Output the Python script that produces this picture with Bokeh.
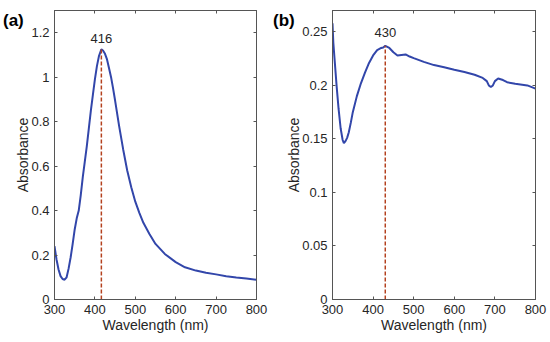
from bokeh.plotting import figure
from bokeh.layouts import row
from bokeh.models import Range1d, LinearAxis, Label, FixedTicker, Div
from bokeh.embed import file_html
from bokeh.resources import INLINE

# ---------------- data ----------------
wl_a = [300, 305, 310, 315, 320, 325, 330, 335, 340, 345, 350, 355, 360, 365, 370,
        375, 380, 385, 390, 395, 400, 405, 410, 416, 420, 425, 430, 435, 440, 445,
        450, 460, 470, 480, 490, 500, 510, 520, 535, 550, 573, 600, 623, 650, 675,
        700, 725, 750, 775, 800]
abs_a = [0.24, 0.18, 0.135, 0.105, 0.092, 0.089, 0.10, 0.14, 0.19, 0.25, 0.315, 0.365,
         0.40, 0.47, 0.55, 0.62, 0.69, 0.77, 0.85, 0.92, 0.99, 1.05, 1.095, 1.125, 1.12,
         1.105, 1.08, 1.04, 1.0, 0.95, 0.895, 0.78, 0.675, 0.58, 0.505, 0.44, 0.39, 0.345,
         0.295, 0.25, 0.205, 0.168, 0.145, 0.13, 0.12, 0.113, 0.105, 0.099, 0.094, 0.089]

wl_b = [300, 302, 305, 310, 315, 320, 325, 328, 332, 336, 340, 345, 350, 360, 370, 380,
        390, 400, 410, 420, 425, 430, 440, 450, 460, 470, 480, 490, 500, 525, 550, 575,
        600, 625, 650, 670, 680, 685, 690, 695, 700, 708, 720, 730, 750, 780, 800]
abs_b = [0.258, 0.24, 0.225, 0.20, 0.178, 0.16, 0.149, 0.146, 0.148, 0.151, 0.156, 0.165,
         0.175, 0.19, 0.202, 0.212, 0.221, 0.228, 0.233, 0.235, 0.2355, 0.237, 0.235,
         0.231, 0.228, 0.2285, 0.229, 0.227, 0.2255, 0.222, 0.219, 0.217, 0.2147, 0.2125,
         0.21, 0.207, 0.204, 0.200, 0.1985, 0.200, 0.204, 0.2065, 0.205, 0.203, 0.2015,
         0.2, 0.197]

peak_a = (416, 1.125)
peak_b = (430, 0.237)

x_ticks = [300, 400, 500, 600, 700, 800]
y_ticks_a = [0, 0.2, 0.4, 0.6, 0.8, 1.0, 1.2]
y_labels_a = ["0", "0.2", "0.4", "0.6", "0.8", "1", "1.2"]
y_ticks_b = [0, 0.05, 0.1, 0.15, 0.2, 0.25]
y_labels_b = ["0", "0.05", "0.1", "0.15", "0.2", "0.25"]
tags = ["(a)", "(b)"]

FONT = "Liberation Sans"
TXT = "#262626"
AX = "#555555"
BLUE = "#3246aa"
RED = "#b4411e"
W, H = 275, 342
TOP, BOTTOM = 10, 43


def style_axis(ax, ticks, show_labels=True):
    ax.axis_line_color = AX
    ax.major_tick_line_color = AX
    ax.major_tick_in = 3
    ax.major_tick_out = 0
    ax.minor_tick_in = 0
    ax.minor_tick_out = 0
    ax.minor_tick_line_color = None
    ax.major_label_text_font = FONT
    ax.major_label_text_color = TXT
    ax.axis_label_text_font = FONT
    ax.axis_label_text_color = TXT
    ax.axis_label_text_font_style = "normal"
    ax.axis_label_text_font_size = "14px"
    ax.major_label_text_font_size = "13px"
    if not show_labels:
        ax.major_label_overrides = {t: "" for t in ticks}
        ax.major_label_text_color = None
        ax.major_label_standoff = 0


def make_panel(wl, ab, peak, yticks, ylabels, ymax, bl, br, lab_off):
    p = figure(width=W, height=H, output_backend="svg", toolbar_location=None,
               x_range=Range1d(300, 800), y_range=Range1d(0, ymax),
               min_border_left=bl, min_border_right=br, min_border_top=TOP,
               min_border_bottom=BOTTOM)
    p.grid.visible = False
    p.outline_line_color = AX
    p.background_fill_color = "white"
    p.border_fill_color = "white"

    p.xaxis.ticker = FixedTicker(ticks=x_ticks)
    p.yaxis.ticker = FixedTicker(ticks=yticks)
    p.xaxis.axis_label = "Wavelength (nm)"
    p.yaxis.axis_label = "Absorbance"
    style_axis(p.xaxis[0], x_ticks)
    style_axis(p.yaxis[0], yticks)
    p.yaxis.major_label_overrides = {t: l for t, l in zip(yticks, ylabels)}
    p.xaxis.major_label_standoff = 5
    p.xaxis.axis_label_standoff = 0
    p.yaxis.major_label_standoff = 5
    p.yaxis.axis_label_standoff = -3

    ra = LinearAxis(ticker=FixedTicker(ticks=yticks))
    style_axis(ra, yticks, False)
    p.add_layout(ra, "right")
    ta = LinearAxis(ticker=FixedTicker(ticks=x_ticks))
    style_axis(ta, x_ticks, False)
    p.add_layout(ta, "above")

    p.line(wl, ab, line_color=BLUE, line_width=2)
    p.segment(x0=[peak[0]], y0=[0], x1=[peak[0]], y1=[peak[1]],
              line_color=RED, line_width=1.5, line_dash="4 2")
    p.add_layout(Label(x=peak[0], y=peak[1], y_offset=lab_off, text=str(peak[0]),
                       text_align="center", text_baseline="bottom",
                       text_font=FONT, text_font_size="13px", text_color=TXT))
    return p


pa = make_panel(wl_a, abs_a, peak_a, y_ticks_a, y_labels_a, 1.3, 54, 19, 6)
pb = make_panel(wl_b, abs_b, peak_b, y_ticks_b, y_labels_b, 0.27, 57, 15, 9)


def tag_div(text, left):
    return Div(text=text, styles={"position": "absolute", "left": f"{left}px", "top": "7px",
                                  "font-family": "'Liberation Sans'", "font-size": "17px",
                                  "font-weight": "bold", "color": "black",
                                  "z-index": "10", "line-height": "1"})


layout = row(pa, pb, tag_div(tags[0], -2), tag_div(tags[1], 268))
open("out.html", "w").write(file_html(layout, INLINE))
